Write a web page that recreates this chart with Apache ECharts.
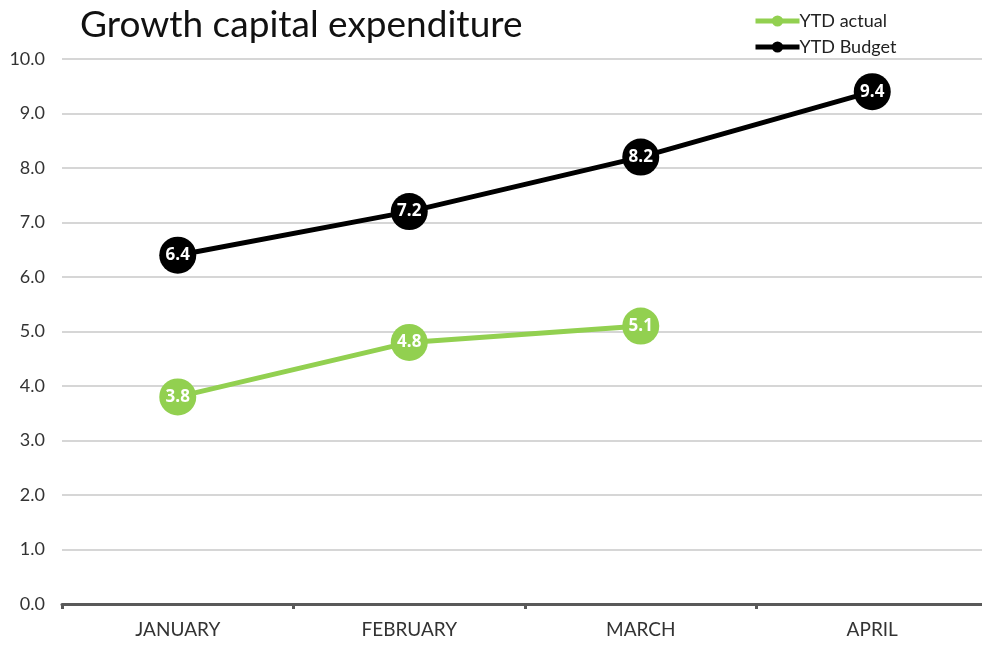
<!DOCTYPE html>
<html>
<head>
<meta charset="utf-8">
<script src="https://cdn.jsdelivr.net/npm/echarts@6/dist/echarts.min.js"></script>
<style>
  html, body { margin: 0; padding: 0; background: #fff; }
  #chart { width: 982px; height: 646px; }
</style>
</head>
<body>
<div id="chart"></div>
<script>
const months = ['JANUARY', 'FEBRUARY', 'MARCH', 'APRIL'];
const ytdActual = [3.8, 4.8, 5.1, null];
const ytdBudget = [6.4, 7.2, 8.2, 9.4];

const chart = echarts.init(document.getElementById('chart'));
const baseFont = 'Lato, "DejaVu Sans", sans-serif';

function lineSeries(name, data, color) {
  return {
    name: name,
    type: 'line',
    data: data,
    symbol: 'circle',
    symbolSize: 37,
    lineStyle: { color: color, width: 5 },
    itemStyle: { color: color },
    label: {
      show: true,
      position: 'inside',
      color: '#fff',
      fontFamily: '"Open Sans", sans-serif',
      fontWeight: 'bold',
      fontSize: 17,
      formatter: p => p.value.toFixed(1)
    },
    emphasis: { disabled: true },
    animation: false
  };
}

chart.setOption({
  animation: false,
  title: {
    text: 'Growth capital expenditure',
    left: 75,
    top: 2,
    textStyle: { fontFamily: baseFont, fontWeight: 'normal', fontSize: 37, color: '#111' }
  },
  legend: {
    orient: 'vertical',
    left: 748,
    top: 7,
    itemGap: 8,
    itemWidth: 44,
    itemHeight: 14,
    lineStyle: { width: 5 },
    textStyle: { fontFamily: baseFont, fontSize: 18, color: '#222', padding: [0, 0, 0, -5] },
    data: ['YTD actual', 'YTD Budget']
  },
  grid: { left: 62, top: 59, width: 926, height: 545, outerBoundsMode: 'none', containLabel: false },
  xAxis: {
    type: 'category',
    data: months,
    boundaryGap: true,
    axisLine: { lineStyle: { color: '#595959', width: 3 } },
    axisTick: { show: true, length: 5, lineStyle: { color: '#595959', width: 3 } },
    axisLabel: { fontFamily: baseFont, fontSize: 19, color: '#333', margin: 16 }
  },
  yAxis: {
    type: 'value',
    min: 0,
    max: 10,
    interval: 1,
    axisLine: { show: false },
    axisTick: { show: false },
    axisLabel: { fontFamily: baseFont, fontSize: 18, color: '#333', margin: 17, formatter: v => v.toFixed(1) },
    splitLine: { lineStyle: { color: '#c8c8c8', width: 1.5 } }
  },
  series: [
    lineSeries('YTD actual', ytdActual, '#92D050'),
    lineSeries('YTD Budget', ytdBudget, '#000000')
  ]
});
</script>
</body>
</html>
